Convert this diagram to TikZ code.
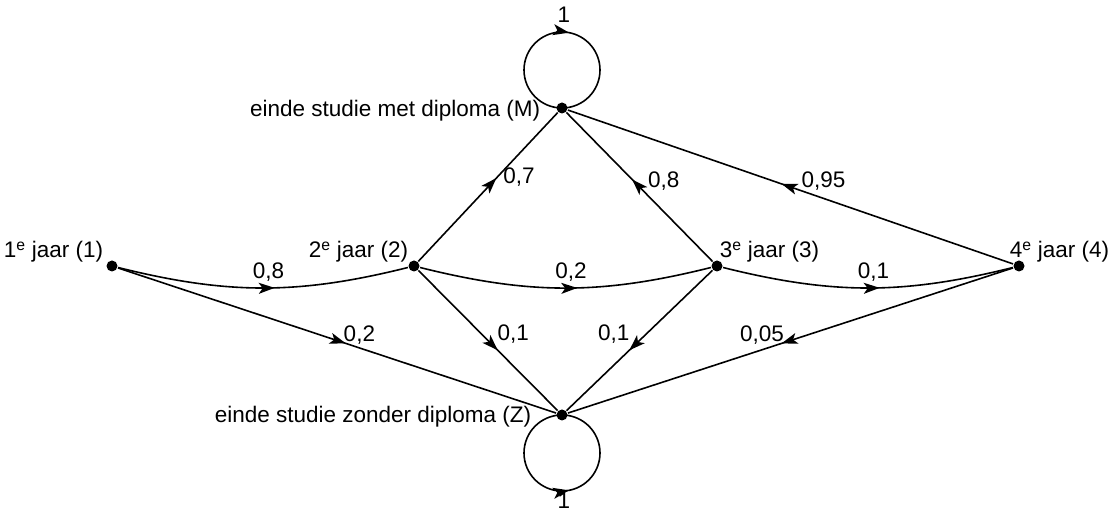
\documentclass[tikz,border=0pt]{standalone}
\usepackage{fontspec}
\setmainfont{Liberation Sans}
\usetikzlibrary{arrows.meta,decorations.markings}

\tikzset{
	dot/.style={circle, fill=black, inner sep=0pt, minimum size=11pt},
	lbl/.style={inner sep=1pt, font=\fontsize{22.5}{26}\selectfont},
	arrowat/.style={postaction={decorate},
		decoration={markings, mark=at position #1 with
			{\arrow{Stealth[length=16pt,width=11pt,inset=4pt]}}}},
}

\begin{document}
\begin{tikzpicture}[x=1pt, y=1pt, line width=1.6pt]

	\useasboundingbox (0,0) rectangle (1109,510);

	\def\yJ{244}
	\def\r{38}

	% states
	\node[dot] (j1) at (112,\yJ) {};
	\node[dot] (j2) at (414,\yJ) {};
	\node[dot] (j3) at (717,\yJ) {};
	\node[dot] (j4) at (1019,\yJ) {};
	\node[dot] (M) at (562,402) {};
	\node[dot] (Z) at (562,95) {};

	% state names
	\node[lbl, anchor=base east] (t1) at (105,252) {1\textsuperscript{e} jaar (1)};
	\node[lbl, anchor=base east] (t2) at (410,252) {2\textsuperscript{e} jaar (2)};
	\node[lbl, anchor=base west] (t3) at (718,252) {3\textsuperscript{e} jaar (3)};
	\node[lbl, anchor=base west] (t4) at (1008,252) {4\textsuperscript{e} jaar (4)};
	\node[lbl, anchor=base east] (tM) at (542,393) {einde studie met diploma (M)};
	\node[lbl, anchor=base east] (tZ) at (533,87) {einde studie zonder diploma (Z)};

	% year to year
	\draw[arrowat=0.54] (j1) to[bend right=14] node[lbl, pos=0.52, yshift=16pt] {0,8} (j2);
	\draw[arrowat=0.54] (j2) to[bend right=14] node[lbl, pos=0.52, yshift=16pt] {0,2} (j3);
	\draw[arrowat=0.54] (j3) to[bend right=14] node[lbl, pos=0.52, yshift=16pt] {0,1} (j4);

	% to M
	\draw[arrowat=0.56] (j2) -- node[lbl, pos=0.55, xshift=24pt, yshift=2pt] {0,7} (M);
	\draw[arrowat=0.55] (j3) -- node[lbl, pos=0.54, xshift=30pt] {0,8} (M);
	\draw[arrowat=0.52] (j4) -- node[lbl, pos=0.52, xshift=42pt, yshift=3pt] {0,95} (M);

	% to Z
	\draw[arrowat=0.52] (j1) -- node[lbl, pos=0.51, xshift=18pt, yshift=7pt] {0,2} (Z);
	\draw[arrowat=0.57] (j2) -- node[lbl, pos=0.56, xshift=17pt, yshift=15pt] {0,1} (Z);
	\draw[arrowat=0.57] (j3) -- node[lbl, pos=0.56, xshift=-17pt, yshift=15pt] {0,1} (Z);
	\draw[arrowat=0.52] (j4) -- node[lbl, pos=0.51, xshift=-24pt, yshift=7pt] {0,05} (Z);

	% loops
	\draw[arrowat=0.53] (M.center) arc[start angle=270, end angle=-90, radius=\r];
	\node[lbl] (oneM) at (564,495) {1};
	\draw[arrowat=0.53] (Z.center) arc[start angle=90, end angle=450, radius=\r];
	\node[lbl, inner sep=0pt, anchor=base] (oneZ) at (564,1.5) {1};

\end{tikzpicture}
\end{document}
